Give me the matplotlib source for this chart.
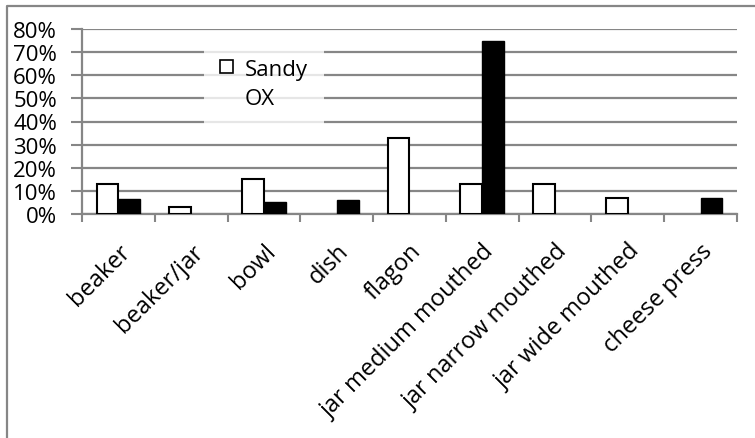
import matplotlib
matplotlib.use("Agg")
import matplotlib.pyplot as plt
from matplotlib.lines import Line2D
from matplotlib.patches import Patch
from matplotlib.transforms import ScaledTranslation
import numpy as np

categories = ["beaker", "beaker/jar", "bowl", "dish", "flagon",
              "jar medium mouthed", "jar narrow mouthed", "jar wide mouthed",
              "cheese press"]
sandy = [13, 3, 15, 0, 33, 13, 13, 7, 0]
ox = [6.5, 0, 5, 6, 0, 75, 0, 0, 7]
series_names = ["Sandy", "OX"]
y_ticks = [0, 10, 20, 30, 40, 50, 60, 70, 80]

W, H = 755, 439
FS = 16
plt.rcParams["font.family"] = ["Open Sans", "DejaVu Sans"]
fig = plt.figure(figsize=(W / 100, H / 100), dpi=100)
ax = fig.add_axes([82 / W, 1 - 215 / H, (737 - 82) / W, (215 - 30) / H])

grey = "#868686"
x = np.arange(len(categories))
bw = 0.3
ax.bar(x - bw / 2, sandy, bw, facecolor="white", edgecolor="black",
       linewidth=[1.5 if v > 0 else 0 for v in sandy], zorder=3)
ax.bar(x + bw / 2, ox, bw, facecolor="black", edgecolor="black",
       linewidth=[1.0 if v > 0 else 0 for v in ox], zorder=3)

ax.set_xlim(-0.5, len(categories) - 0.5)
ax.set_ylim(0, 80)
ax.set_yticks(y_ticks)
ax.set_yticklabels([f"{v}%" for v in y_ticks], fontsize=FS)
ax.yaxis.grid(True, color=grey, linewidth=1.6, zorder=0)
ax.set_axisbelow(True)

ax.set_xticks(np.arange(len(categories) + 1) - 0.5)
ax.set_xticklabels([])
ax.set_xticks(x, minor=True)
ax.set_xticklabels(categories, minor=True, rotation=45, ha="right",
                   rotation_mode="anchor", fontsize=17)
shift = ScaledTranslation(-8 / 100, -2 / 100, fig.dpi_scale_trans)
for lbl in ax.get_xticklabels(minor=True):
    lbl.set_transform(lbl.get_transform() + shift)
ax.tick_params(axis="x", which="major", length=6, width=1.5, color=grey,
               direction="out")
ax.tick_params(axis="x", which="minor", length=0, pad=18)
ax.tick_params(axis="y", length=8, width=1.5, color=grey, pad=10)

for side in ("top", "right"):
    ax.spines[side].set_visible(False)
for side in ("left", "bottom"):
    ax.spines[side].set_color(grey)
    ax.spines[side].set_linewidth(1.6)

handles = [Patch(facecolor="white", edgecolor="black", linewidth=1.2),
           Patch(facecolor="none", edgecolor="none")]
leg = ax.legend(handles, series_names, loc="center",
                bbox_to_anchor=((264 - 82) / 655, 1 - (85 - 30) / 185),
                fontsize=FS, frameon=True, fancybox=False,
                handlelength=0.55, handleheight=0.55, handletextpad=0.55,
                labelspacing=0.4, borderpad=0.75, borderaxespad=0)
leg.get_frame().set_facecolor("white")
leg.get_frame().set_edgecolor("none")
leg.set_zorder(5)

# outer chart border
bx, by = 7 / W, 1 - 7 / H
fig.add_artist(Line2D([bx, bx, 1.01], [-0.01, by, by], transform=fig.transFigure,
                      color=grey, linewidth=1.6))

fig.savefig("out.png", dpi=100)
